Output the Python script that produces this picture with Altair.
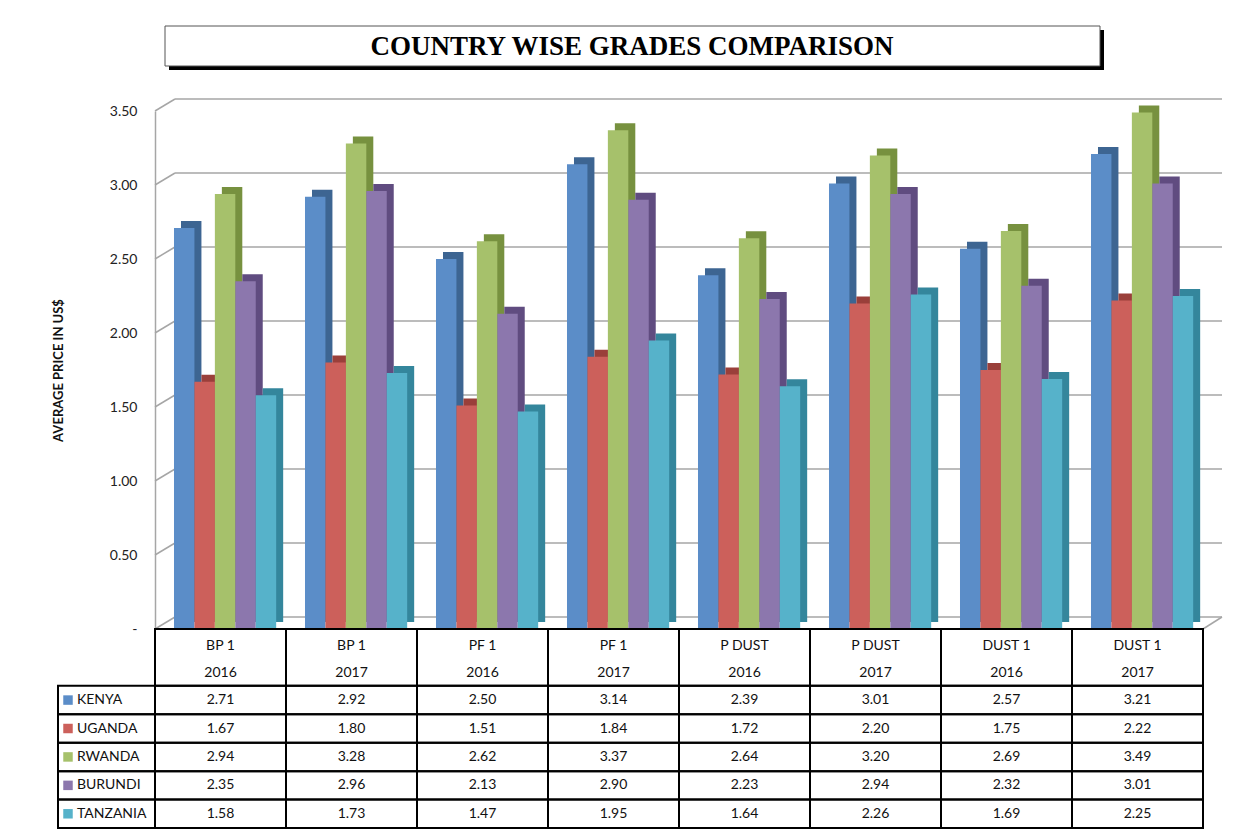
import altair as alt
import pandas as pd

# ---------------- data ----------------
grades = ["BP 1", "BP 1", "PF 1", "PF 1", "P DUST", "P DUST", "DUST 1", "DUST 1"]
years = ["2016", "2017", "2016", "2017", "2016", "2017", "2016", "2017"]
countries = ["KENYA", "UGANDA", "RWANDA", "BURUNDI", "TANZANIA"]
kenya = [2.71, 2.92, 2.50, 3.14, 2.39, 3.01, 2.57, 3.21]
uganda = [1.67, 1.80, 1.51, 1.84, 1.72, 2.20, 1.75, 2.22]
rwanda = [2.94, 3.28, 2.62, 3.37, 2.64, 3.20, 2.69, 3.49]
burundi = [2.35, 2.96, 2.13, 2.90, 2.23, 2.94, 2.32, 3.01]
tanzania = [1.58, 1.73, 1.47, 1.95, 1.64, 2.26, 1.69, 2.25]
grid_values = [0.0, 0.5, 1.0, 1.5, 2.0, 2.5, 3.0, 3.5]
title_text = "COUNTRY WISE GRADES COMPARISON"
y_title = "AVERAGE PRICE IN US$"

colors = ["#5b8dc8", "#cc605b", "#a6c16b", "#8c77ad", "#56b2ca"]
side_colors = ["#3d6592", "#9a3f3a", "#77913f", "#604c80", "#34869c"]

series = [kenya, uganda, rwanda, burundi, tanzania]
rows = []
for k, (c, vals) in enumerate(zip(countries, series)):
    for i, (g, yr, v) in enumerate(zip(grades, years, vals)):
        rows.append(dict(country=c, k=k, ci=i, grade=g, year=yr, value=v))
df = pd.DataFrame(rows)
cat_df = pd.DataFrame({"ci": list(range(len(grades))), "grade": grades, "year": years})
cty_df = pd.DataFrame({"country": countries, "k": list(range(len(countries)))})
grid_df = pd.DataFrame({"v": grid_values})
title_df = pd.DataFrame({"label": [title_text]})

W = 1048
H = 518
TH = 199
FONT = "Lato"

xs = alt.Scale(domain=[-0.5, 7.5], nice=False, zero=False, padding=0)
ys = alt.Scale(domain=[0, 3.5], nice=False, zero=True, padding=0)
cscale = alt.Scale(domain=countries, range=colors)
sscale = alt.Scale(domain=countries, range=side_colors)

yaxis = alt.Axis(
    values=grid_values,
    labelExpr="datum.value == 0 ? '-' : format(datum.value, '.2f')",
    ticks=False, grid=False, domainColor="#a6a6a6", domainWidth=1.5,
    labelFont=FONT, labelFontSize=14, labelColor="#222222", labelPadding=18,
    title=y_title, titleFont=FONT, titleFontSize=13, titleFontWeight="bold",
    titleColor="#111111", titlePadding=44,
)

# ---------------- bar chart ----------------
gbase = alt.Chart(grid_df)
grid_back = gbase.mark_rule(color="#a6a6a6", strokeWidth=1.5, yOffset=-12).encode(
    y=alt.Y("v:Q", scale=ys, axis=yaxis),
    x=alt.value(20), x2=alt.value(W + 19),
)
grid_diag = gbase.mark_rule(color="#a6a6a6", strokeWidth=1.5, y2Offset=-12).encode(
    y=alt.Y("v:Q", scale=ys), y2="v:Q",
    x=alt.value(0), x2=alt.value(20),
)
floor_right = alt.Chart(grid_df).transform_filter("datum.v == 0").mark_rule(
    color="#a6a6a6", strokeWidth=1.5, y2Offset=-12
).encode(y=alt.Y("v:Q", scale=ys), y2="v:Q", x=alt.value(W), x2=alt.value(W + 19))

bbase = alt.Chart(df).transform_calculate(
    x0="datum.ci - 0.5 + 0.145 + datum.k * 0.156",
    x1="datum.ci - 0.5 + 0.145 + (datum.k + 1) * 0.156",
    base="0",
)
shadow = bbase.mark_rect(xOffset=7, x2Offset=7, yOffset=-7, y2Offset=-7).encode(
    x=alt.X("x0:Q", scale=xs, axis=None), x2="x1:Q",
    y=alt.Y("value:Q", scale=ys), y2="base:Q",
    fill=alt.Fill("country:N", scale=sscale, legend=None),
)
front = bbase.mark_rect().encode(
    x=alt.X("x0:Q", scale=xs, axis=None), x2="x1:Q",
    y=alt.Y("value:Q", scale=ys), y2="base:Q",
    color=alt.Color("country:N", scale=cscale, legend=None),
)
bars = alt.layer(grid_back, grid_diag, floor_right, shadow, front).properties(width=W, height=H)

# ---------------- table ----------------
tys = alt.Scale(domain=[0, 7], reverse=True, nice=False, zero=False, padding=0)
tbase = alt.Chart(df).transform_calculate(
    xa="datum.ci - 0.5", xb="datum.ci + 0.5", ra="datum.k + 2", rb="datum.k + 3", rm="datum.k + 2.5"
)
cells = tbase.mark_rect(fillOpacity=0, stroke="black", strokeWidth=2).encode(
    x=alt.X("xa:Q", scale=xs, axis=None), x2="xb:Q",
    y=alt.Y("ra:Q", scale=tys, axis=None), y2="rb:Q",
)
vals = tbase.mark_text(font=FONT, fontSize=14, color="#111111", baseline="middle").encode(
    x=alt.X("ci:Q", scale=xs, axis=None),
    y=alt.Y("rm:Q", scale=tys, axis=None),
    text=alt.Text("value:Q", format=".2f"),
)
hbase = alt.Chart(cat_df).transform_calculate(
    xa="datum.ci - 0.5", xb="datum.ci + 0.5", h0="0", h2="2", l1="0.6", l2="1.55"
)
hcells = hbase.mark_rect(fillOpacity=0, stroke="black", strokeWidth=2).encode(
    x=alt.X("xa:Q", scale=xs, axis=None), x2="xb:Q",
    y=alt.Y("h0:Q", scale=tys, axis=None), y2="h2:Q",
)
htext1 = hbase.mark_text(font=FONT, fontSize=14, color="#111111", baseline="middle").encode(
    x=alt.X("ci:Q", scale=xs, axis=None), y=alt.Y("l1:Q", scale=tys, axis=None), text="grade:N",
)
htext2 = hbase.mark_text(font=FONT, fontSize=14, color="#111111", baseline="middle").encode(
    x=alt.X("ci:Q", scale=xs, axis=None), y=alt.Y("l2:Q", scale=tys, axis=None), text="year:N",
)
lbase = alt.Chart(cty_df).transform_calculate(
    ra="datum.k + 2", rb="datum.k + 3", rm="datum.k + 2.5"
)
lcells = lbase.mark_rect(fillOpacity=0, stroke="black", strokeWidth=2).encode(
    x=alt.value(-97), x2=alt.value(0),
    y=alt.Y("ra:Q", scale=tys, axis=None), y2="rb:Q",
)
lsq = lbase.mark_square(size=90, opacity=1).encode(
    x=alt.value(-87),
    y=alt.Y("rm:Q", scale=tys, axis=None),
    color=alt.Color("country:N", scale=cscale, legend=None),
)
ltext = lbase.mark_text(font=FONT, fontSize=14, color="#111111", align="left", baseline="middle").encode(
    x=alt.value(-78),
    y=alt.Y("rm:Q", scale=tys, axis=None),
    text="country:N",
)
table = alt.layer(cells, hcells, lcells, vals, htext1, htext2, lsq, ltext).properties(width=W, height=TH)

# ---------------- title box ----------------
tb = alt.Chart(title_df)
t_shadow = tb.mark_rect(color="black").encode(
    x=alt.value(14), x2=alt.value(949), y=alt.value(4), y2=alt.value(44)
)
t_box = tb.mark_rect(fill="white", stroke="#555555", strokeWidth=1).encode(
    x=alt.value(10), x2=alt.value(945), y=alt.value(0), y2=alt.value(40)
)
t_text = tb.mark_text(font="Liberation Serif", fontSize=27, fontWeight="bold", color="black",
                      baseline="middle").encode(
    x=alt.value(477), y=alt.value(21), text="label:N"
)
title_chart = alt.layer(t_shadow, t_box, t_text).properties(width=W, height=45)

inner = alt.vconcat(bars, table, spacing=0, bounds="flush")
chart = alt.vconcat(title_chart, inner, spacing=40, bounds="flush").properties(
    padding={"top": 17, "left": 44, "right": 10, "bottom": 0},
    background="white",
).configure_view(stroke=None)

chart.save("out.html", embed_options={"renderer": "svg", "actions": False})
